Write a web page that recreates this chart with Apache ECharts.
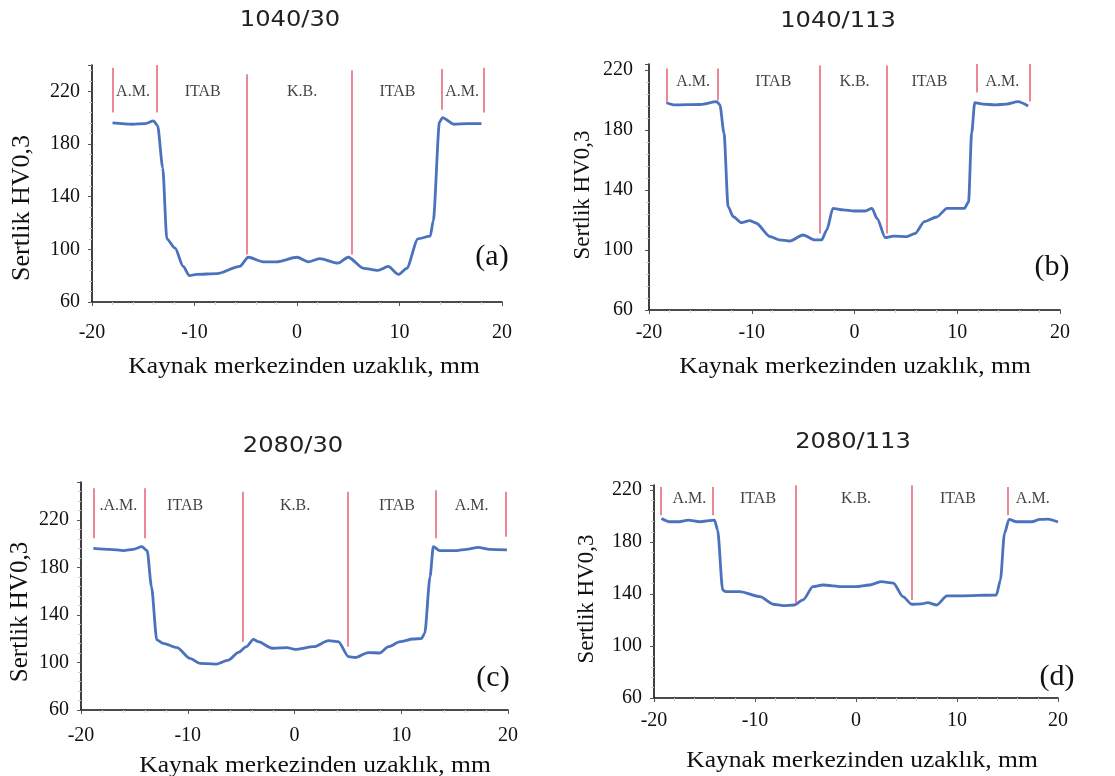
<!DOCTYPE html>
<html>
<head>
<meta charset="utf-8">
<script src="https://cdn.jsdelivr.net/npm/echarts@6/dist/echarts.min.js"></script>
<style>
html,body{margin:0;padding:0;background:#fff;}
#chart{width:1115px;height:776px;}
</style>
</head>
<body>
<div id="chart"></div>
<script>
// ---------- data ----------
const titles = ['1040/30', '1040/113', '2080/30', '2080/113'];
const letters = ['(a)', '(b)', '(c)', '(d)'];
const xTitle = 'Kaynak merkezinden uzaklık, mm';
const yTitle = 'Sertlik HV0,3';
const xTicks = [-20, -10, 0, 10, 20];
const yTicks = [60, 100, 140, 180, 220];

// (a) 1040/30
const aX = [-18, -16.1, -14.8, -14.0, -13.6, -13.1, -12.7, -11.9, -11.1, -10.5, -9.8, -7.8, -5.6, -4.75, -3.3, -2.0, 0, 1.1, 2.2, 4.0, 5.0, 6.5, 7.9, 8.9, 9.9, 10.7, 11.8, 13.0, 13.3, 13.9, 14.2, 15.3, 16.6, 18.0];
const aY = [196, 195, 195.5, 197.5, 194, 162, 108, 101, 87, 80, 81, 81.5, 87, 94, 90.5, 90.5, 94, 90.5, 93, 89.5, 94, 85.5, 84, 87, 81, 85.5, 108, 110, 122, 196.5, 200, 195, 195.5, 195.5];
// (b) 1040/113
const bX = [-18.3, -17.5, -15.0, -13.4, -13.1, -12.7, -12.3, -11.8, -11.0, -10.2, -9.6, -8.2, -7.3, -6.3, -5.0, -3.85, -3.2, -2.7, -2.1, -1.1, 0, 1.0, 1.7, 2.2, 3.0, 3.8, 5.1, 5.9, 6.8, 8.0, 9.0, 10.7, 11.1, 11.4, 11.7, 12.5, 13.7, 14.8, 15.9, 16.9];
const bY = [198.2, 196.7, 197, 198.9, 196.7, 177.8, 128.9, 122.2, 118.2, 119.6, 118, 108.9, 106.7, 106, 110, 106.7, 106.7, 113.3, 127.8, 126.7, 126, 126, 127.8, 121, 108.2, 109.3, 108.9, 111, 118.9, 122, 127.8, 127.8, 132, 177.8, 198.2, 197.3, 196.7, 197.3, 198.9, 196];
// (c) 2080/30
const cX = [-18.85, -17.3, -16.0, -15.1, -14.3, -13.8, -13.4, -12.9, -12.3, -11.0, -9.8, -8.85, -7.3, -6.2, -5.25, -4.5, -3.85, -3.4, -2.1, -0.7, 0.05, 1.8, 3.2, 4.1, 5.06, 5.7, 6.9, 8.0, 8.8, 9.9, 11.1, 11.9, 12.2, 12.7, 13.0, 13.6, 15.2, 16.1, 17.2, 18.3, 19.9];
const cY = [196.1, 195.3, 194.2, 195.3, 197.5, 194.2, 163.9, 119, 116.1, 112.5, 103.5, 99.3, 98.7, 102, 108.6, 113.3, 119.5, 117.5, 112, 112.5, 111.1, 113.3, 118.4, 117.5, 104.9, 104.2, 108.4, 108, 113.3, 117.5, 119.8, 120.2, 124.6, 172.3, 197.5, 194.2, 194.2, 195.3, 197, 195.3, 194.8];
// (d) 2080/113
const dX = [-19.27, -18.45, -17.5, -16.6, -15.5, -14.0, -13.7, -13.2, -12.9, -11.5, -9.5, -8.2, -7.2, -6.1, -5.25, -4.26, -3.3, -1.3, 0, 1.3, 2.5, 3.7, 4.65, 5.5, 6.5, 7.1, 8.0, 9.0, 10.3, 13.9, 14.3, 14.7, 15.15, 15.9, 17.4, 18.2, 19.0, 20.0];
const dY = [198.2, 195.7, 195.7, 197, 195.7, 197, 189.3, 143.2, 141.9, 141.9, 138, 132.2, 131.1, 131.6, 135.5, 145.7, 147, 145.7, 145.7, 147, 149.6, 148.4, 138, 132.2, 132.5, 133.4, 131.6, 138.6, 138.6, 139.3, 150.9, 186.7, 197.5, 195.7, 195.7, 197.5, 197.7, 195.5];

// zone dividers (x, top, bottom)
const aDivX = [-18, -13.7, -4.9, 5.3, 14.1, 18.2];
const aDivTop = [238, 240, 233, 236, 237, 238];
const aDivBot = [204, 204, 96, 96, 206, 204];
const bDivX = [-18.3, -13.3, -3.4, 3.1, 11.9, 17.1];
const bDivTop = [221, 221, 223, 223, 224, 224];
const bDivBot = [198, 200, 111, 111, 205, 199];
const cDivX = [-18.85, -14.07, -4.88, 4.96, 13.2, 19.75];
const cDivTop = [246.7, 246.7, 243.8, 243.8, 245, 243.8];
const cDivBot = [204.6, 204.6, 117.5, 113.3, 204.6, 206];
const dDivX = [-19.34, -14.16, -6.0, 5.55, 15.0, 20.2];
const dDivTop = [222.5, 222.5, 223.8, 223.8, 222.5, 223.8];
const dDivBot = [200.8, 200.8, 133, 135.5, 200.8, 200.8];

// zone labels
const aZoneNames = ['A.M.', 'ITAB', 'K.B.', 'ITAB', 'A.M.'];
const aZoneX = [-16.0, -9.2, 0.5, 9.8, 16.1];
const aZoneY = 220;
const bZoneNames = ['A.M.', 'ITAB', 'K.B.', 'ITAB', 'A.M.'];
const bZoneX = [-15.7, -7.9, 0.0, 7.3, 14.4];
const bZoneY = 212;
const cZoneNames = ['.A.M.', 'ITAB', 'K.B.', 'ITAB', 'A.M.'];
const cZoneX = [-16.5, -10.25, 0.06, 9.6, 16.6];
const cZoneY = 231.8;
const dZoneNames = ['A.M.', 'ITAB', 'K.B.', 'ITAB', 'A.M.'];
const dZoneX = [-16.5, -9.7, 0, 10.1, 17.5];
const dZoneY = 213.6;

// ---------- layout / style ----------
const SERIF = '"Liberation Serif", "DejaVu Serif", serif';
const SANS = '"DejaVu Sans", sans-serif';
const LINE_C = '#4a72bd';
const RED_C = '#e66b7a';
const TXT = '#111';

const panels = [
  {x: aX, y: aY, divX: aDivX, divT: aDivTop, divB: aDivBot, zn: aZoneNames, zx: aZoneX, zy: aZoneY,
   grid: {left: 92, top: 65, width: 410, height: 237}, ymax: 240, xMargin: 21, yMargin: 12,
   title: [290, 21], xt: [304, 367], yt: [22, 208], ytSize: 26, let: [492, 257]},
  {x: bX, y: bY, divX: bDivX, divT: bDivTop, divB: bDivBot, zn: bZoneNames, zx: bZoneX, zy: bZoneY,
   grid: {left: 649, top: 64, width: 411, height: 246}, ymax: 224, xMargin: 13, yMargin: 16,
   title: [838, 22], xt: [855, 367], yt: [583, 195], ytSize: 23, let: [1052, 267]},
  {x: cX, y: cY, divX: cDivX, divT: cDivTop, divB: cDivBot, zn: cZoneNames, zx: cZoneX, zy: cZoneY,
   grid: {left: 81, top: 482, width: 427, height: 228}, ymax: 252, xMargin: 16, yMargin: 12,
   title: [293, 447], xt: [315, 766], yt: [20, 612], ytSize: 25, let: [493, 678]},
  {x: dX, y: dY, divX: dDivX, divT: dDivTop, divB: dDivBot, zn: dZoneNames, zx: dZoneX, zy: dZoneY,
   grid: {left: 654, top: 485, width: 404, height: 213}, ymax: 224, xMargin: 13, yMargin: 12,
   title: [853, 443], xt: [862, 761], yt: [587, 599], ytSize: 23, let: [1057, 677]}
];

const grids = [], xAxes = [], yAxes = [], series = [], graphics = [];

panels.forEach((p, i) => {
  grids.push(Object.assign({containLabel: false}, p.grid));
  xAxes.push({
    type: 'value', gridIndex: i, min: -20, max: 20, interval: 10,
    axisLine: {onZero: false, lineStyle: {color: '#111', width: 1.6}},
    axisTick: {show: true, inside: false, length: 4, lineStyle: {color: '#555'}},
    minorTick: {show: true, splitNumber: 5, length: 3, lineStyle: {color: '#ccc'}},
    splitLine: {show: false},
    axisLabel: {color: TXT, fontFamily: SERIF, fontSize: 20, margin: p.xMargin,
      formatter: v => xTicks.indexOf(v) >= 0 ? String(v) : ''}
  });
  yAxes.push({
    type: 'value', gridIndex: i, min: 60, max: p.ymax, interval: 40,
    axisLine: {show: true, onZero: false, lineStyle: {color: '#111', width: 1.6}},
    axisTick: {show: true, inside: false, length: 4, lineStyle: {color: '#555'}},
    minorTick: {show: true, splitNumber: 5, length: 3, lineStyle: {color: '#ccc'}},
    splitLine: {show: false},
    axisLabel: {color: TXT, fontFamily: SERIF, fontSize: 20, margin: p.yMargin,
      formatter: v => yTicks.indexOf(v) >= 0 ? String(v) : ''}
  });
  // hardness profile
  series.push({
    type: 'line', xAxisIndex: i, yAxisIndex: i,
    data: p.x.map((xv, k) => [xv, p.y[k]]),
    showSymbol: false, smooth: 0.25, smoothMonotone: 'x',
    lineStyle: {color: LINE_C, width: 2.8}, z: 3, silent: true
  });
  // zone dividers
  series.push({
    type: 'line', xAxisIndex: i, yAxisIndex: i, data: [], silent: true,
    markLine: {
      silent: true, symbol: ['none', 'none'], animation: false,
      label: {show: false},
      lineStyle: {color: RED_C, width: 1.6, type: 'solid'},
      data: p.divX.map((xv, k) => [{coord: [xv, p.divT[k]]}, {coord: [xv, p.divB[k]]}])
    }
  });
  // zone labels
  series.push({
    type: 'scatter', xAxisIndex: i, yAxisIndex: i, symbolSize: 0, silent: true,
    data: p.zx.map((xv, k) => ({value: [xv, p.zy], name: p.zn[k]})),
    label: {show: true, position: 'inside', formatter: '{b}', color: TXT,
      fontFamily: SERIF, fontSize: 16}
  });
  graphics.push({type: 'text', x: p.title[0], y: p.title[1], scaleX: 1.15,
    style: {text: titles[i], font: '21px ' + SANS, fill: '#222', align: 'center', verticalAlign: 'middle'}});
  graphics.push({type: 'text', x: p.xt[0], y: p.xt[1], scaleX: 1.11,
    style: {text: xTitle, font: '23px ' + SERIF, fill: TXT, align: 'center', verticalAlign: 'middle'}});
  graphics.push({type: 'text', x: p.yt[0], y: p.yt[1], rotation: Math.PI / 2,
    style: {text: yTitle, font: p.ytSize + 'px ' + SERIF, fill: TXT, align: 'center', verticalAlign: 'middle'}});
  graphics.push({type: 'text', x: p.let[0], y: p.let[1],
    style: {text: letters[i], font: '30px ' + SERIF, fill: TXT, align: 'center', verticalAlign: 'middle'}});
});

const chart = echarts.init(document.getElementById('chart'), null, {renderer: 'canvas'});
chart.setOption({
  animation: false,
  backgroundColor: '#fff',
  grid: grids, xAxis: xAxes, yAxis: yAxes, series: series, graphic: graphics
});
</script>
</body>
</html>
